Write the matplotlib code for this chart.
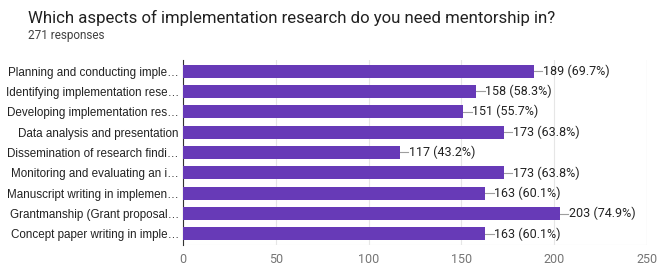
import matplotlib.pyplot as plt
import matplotlib as mpl

mpl.rcParams.update({"font.family": ["Roboto", "DejaVu Sans"]})

categories = [
    "Planning and conducting imple\u2026",
    "Identifying implementation rese\u2026",
    "Developing implementation res\u2026",
    "Data analysis and presentation",
    "Dissemination of research findi\u2026",
    "Monitoring and evaluating an i\u2026",
    "Manuscript writing in implemen\u2026",
    "Grantmanship (Grant proposal\u2026",
    "Concept paper writing in imple\u2026",
]
counts = [189, 158, 151, 173, 117, 173, 163, 203, 163]
percents = [69.7, 58.3, 55.7, 63.8, 43.2, 63.8, 60.1, 74.9, 60.1]
xticks = [0, 50, 100, 150, 200, 250]

fig = plt.figure(figsize=(6.69, 2.76), dpi=100)
ax = fig.add_axes([0.2735, 0.112, 0.6935, 0.671])

ypos = list(range(len(categories)))
ax.barh(ypos, counts, height=0.64, color="#673AB7", zorder=3)

for y, c, p in zip(ypos, counts, percents):
    ax.plot([c, c + 4.5], [y, y], color="#9e9e9e", lw=0.8, zorder=2)
    ax.text(c + 4.8, y, f"{c} ({p}%)", va="center", ha="left",
            fontsize=9, color="#222222")

ax.set_xlim(0, 250)
ax.set_ylim(8.55, -0.55)
ax.set_yticks(ypos)
ax.set_yticklabels(categories, fontsize=8.4, color="#222222",
                   family=["Liberation Sans", "DejaVu Sans"])
ax.set_xticks(xticks)
ax.set_xticklabels([str(t) for t in xticks], fontsize=9, color="#757575")
ax.tick_params(axis="both", length=0, pad=3)
ax.tick_params(axis="x", pad=6)
ax.grid(axis="x", color="#e6e6e6", lw=0.8, zorder=0)
for s in ["top", "right", "bottom"]:
    ax.spines[s].set_visible(False)
ax.spines["left"].set_color("#333333")
ax.spines["left"].set_linewidth(0.8)
ax.axvline(250, color="#e6e6e6", lw=0.8, zorder=0)
ax.axhline(8.55, color="#e6e6e6", lw=0.8, zorder=0)

fig.text(0.042, 0.935, "Which aspects of implementation research do you need mentorship in?",
         fontsize=12.1, color="#212121", va="center")
fig.text(0.042, 0.872, "271 responses", fontsize=8.5, color="#424242", va="center")

fig.savefig("out.png", dpi=100)
